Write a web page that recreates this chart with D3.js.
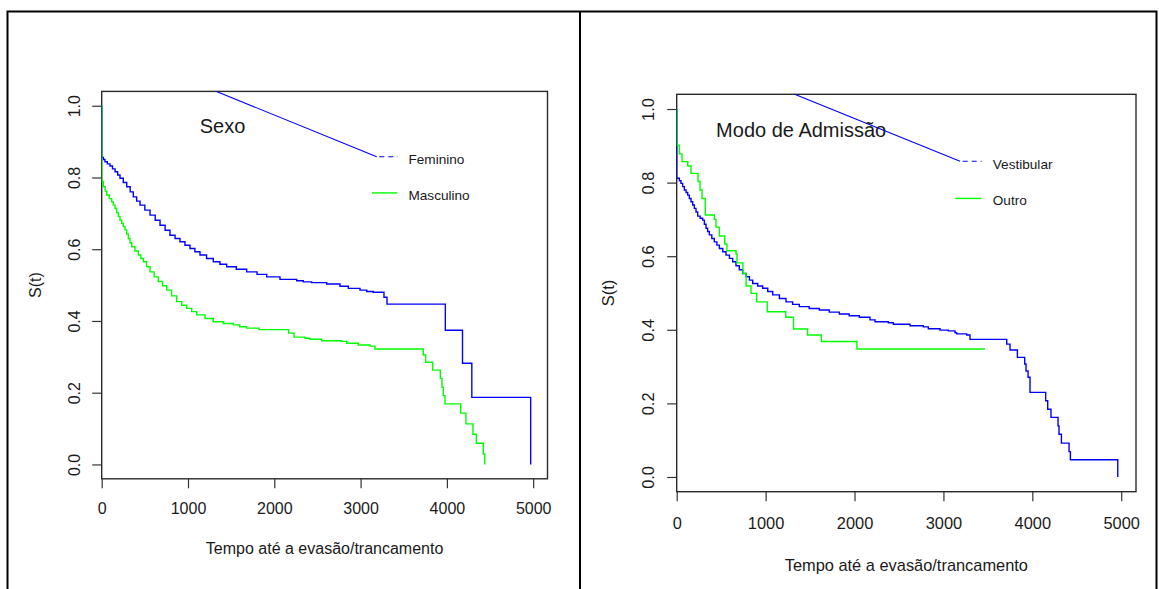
<!DOCTYPE html>
<html>
<head>
<meta charset="utf-8">
<script src="https://cdn.jsdelivr.net/npm/d3@7"></script>
<style>
  body { margin: 0; background: #fff; }
  svg text { font-family: "Liberation Sans", Arial, sans-serif; fill: #1a1a1a; }
</style>
</head>
<body>
<svg id="chart" width="1159" height="589"></svg>
<script>
// Kaplan-Meier estimates (time, S(t))
var femTime = [0, 0, 20, 38, 65, 96, 125, 155, 185, 212, 250, 290, 330, 366, 405, 444, 500, 560, 620, 676, 735, 791, 850, 907, 965, 1023, 1080, 1139, 1215, 1293, 1370, 1448, 1560, 1680, 1800, 1912, 2066, 2260, 2336, 2433, 2607, 2761, 2858, 2993, 3071, 3147, 3271, 3306, 3982, 4181, 4289, 4971];
var femSurv = [1, 0.856, 0.850, 0.844, 0.838, 0.832, 0.824, 0.816, 0.807, 0.798, 0.786, 0.774, 0.760, 0.746, 0.734, 0.723, 0.709, 0.695, 0.681, 0.667, 0.653, 0.639, 0.630, 0.621, 0.611, 0.602, 0.593, 0.584, 0.574, 0.565, 0.558, 0.551, 0.544, 0.537, 0.530, 0.523, 0.516, 0.512, 0.509, 0.507, 0.503, 0.497, 0.491, 0.486, 0.482, 0.480, 0.466, 0.447, 0.374, 0.282, 0.187, 0];

var mascTime = [0, 0, 19, 40, 58, 88, 116, 135, 154, 173, 193, 212, 232, 250, 270, 290, 309, 328, 348, 386, 425, 454, 483, 520, 560, 608, 656, 705, 753, 810, 869, 927, 985, 1043, 1101, 1197, 1293, 1410, 1525, 1600, 1680, 1823, 2166, 2229, 2356, 2414, 2549, 2781, 2839, 2973, 3109, 3167, 3727, 3754, 3835, 3924, 3943, 3958, 3978, 4160, 4221, 4302, 4341, 4422, 4438];
var mascSurv = [1, 0.789, 0.774, 0.762, 0.751, 0.741, 0.732, 0.723, 0.714, 0.702, 0.691, 0.681, 0.672, 0.663, 0.654, 0.642, 0.630, 0.618, 0.607, 0.595, 0.584, 0.574, 0.565, 0.551, 0.537, 0.523, 0.510, 0.498, 0.486, 0.470, 0.454, 0.444, 0.435, 0.426, 0.417, 0.407, 0.398, 0.393, 0.389, 0.384, 0.380, 0.376, 0.366, 0.355, 0.352, 0.349, 0.345, 0.343, 0.338, 0.333, 0.330, 0.322, 0.305, 0.285, 0.263, 0.240, 0.215, 0.192, 0.169, 0.143, 0.113, 0.084, 0.059, 0.029, 0];

var vestTime = [0, 0, 30, 48, 67, 86, 105, 124, 142, 161, 180, 198, 217, 236, 264, 292, 311, 330, 348, 367, 395, 423, 452, 480, 518, 555, 593, 630, 667, 704, 742, 780, 818, 855, 911, 967, 1024, 1080, 1155, 1229, 1304, 1379, 1490, 1604, 1716, 1829, 1940, 2054, 2174, 2231, 2380, 2437, 2624, 2774, 2830, 2962, 3055, 3131, 3149, 3262, 3299, 3712, 3749, 3832, 3914, 3929, 3952, 3974, 4150, 4173, 4210, 4289, 4300, 4327, 4413, 4428, 4961];
var vestSurv = [1, 0.812, 0.805, 0.798, 0.789, 0.780, 0.773, 0.766, 0.757, 0.748, 0.739, 0.730, 0.720, 0.709, 0.703, 0.698, 0.687, 0.676, 0.667, 0.658, 0.648, 0.639, 0.630, 0.621, 0.612, 0.603, 0.594, 0.585, 0.574, 0.563, 0.553, 0.544, 0.535, 0.526, 0.519, 0.513, 0.504, 0.495, 0.485, 0.476, 0.469, 0.463, 0.458, 0.454, 0.448, 0.443, 0.438, 0.434, 0.427, 0.422, 0.419, 0.415, 0.411, 0.408, 0.403, 0.399, 0.397, 0.392, 0.389, 0.386, 0.374, 0.361, 0.345, 0.325, 0.307, 0.288, 0.271, 0.230, 0.207, 0.184, 0.162, 0.139, 0.116, 0.092, 0.069, 0.047, 0];

var outroTime = [0, 0, 30, 60, 124, 161, 240, 262, 285, 321, 423, 442, 480, 540, 565, 668, 678, 745, 781, 836, 900, 1018, 1227, 1314, 1471, 1627, 2027, 3468];
var outroSurv = [1, 0.902, 0.878, 0.857, 0.845, 0.825, 0.803, 0.780, 0.757, 0.712, 0.700, 0.679, 0.655, 0.633, 0.615, 0.606, 0.582, 0.553, 0.519, 0.499, 0.476, 0.449, 0.434, 0.402, 0.386, 0.368, 0.348, 0.348];

var xTicks = [0, 1000, 2000, 3000, 4000, 5000];
var yTicks = [0, 0.2, 0.4, 0.6, 0.8, 1.0];
var panelTitles = ["Sexo", "Modo de Admissão"];
var legendLabels = [["Feminino", "Masculino"], ["Vestibular", "Outro"]];
var xTitle = "Tempo até a evasão/trancamento";
var yTitle = "S(t)";

var svg = d3.select("#chart");

// outer frame of the two pasted pictures
svg.append("rect")
    .attr("x", 7.5).attr("y", 11.5).attr("width", 1149).attr("height", 620)
    .attr("fill", "none").attr("stroke", "#000").attr("stroke-width", 2);
svg.append("line")
    .attr("x1", 580).attr("x2", 580).attr("y1", 11.5).attr("y2", 600)
    .attr("stroke", "#000").attr("stroke-width", 2);

var panels = [
    { box: { left: 101.7, top: 91.4, right: 547.5, bottom: 478.8 }, font: 16, labPad: 14.2, titleGap: 69.7, yLabOff: 27.7, yTitleX: 35.1,
      title: panelTitles[0], legend: legendLabels[0],
      curves: [[femTime, femSurv, "#0000ff"], [mascTime, mascSurv, "#00ff00"]] },
    { box: { left: 676.7, top: 94.3, right: 1136, bottom: 491.7 }, font: 16.4, labPad: 16.3, titleGap: 72.9, yLabOff: 28.4, yTitleX: 607.7,
      title: panelTitles[1], legend: legendLabels[1],
      curves: [[vestTime, vestSurv, "#0000ff"], [outroTime, outroSurv, "#00ff00"]] }
];

var drawPanel = function (p, i) {
    var b = p.box;
    var x = d3.scaleLinear().domain([0, 5166]).range([b.left, b.right]);
    var y = d3.scaleLinear().domain([-0.04, 1.04]).range([b.bottom, b.top]);
    var g = svg.append("g");

    g.append("clipPath").attr("id", "clip" + i)
      .append("rect")
        .attr("x", b.left).attr("y", b.top)
        .attr("width", b.right - b.left).attr("height", b.bottom - b.top);

    //// x axis
    var xAxis = g.append("g")
        .attr("transform", "translate(0," + b.bottom + ")")
        .call(d3.axisBottom(x).tickValues(xTicks).tickFormat(d3.format("d"))
            .tickSize(9.5).tickSizeOuter(0).tickPadding(p.labPad));
    xAxis.select(".domain").remove();
    xAxis.selectAll(".tick line").attr("stroke", "#333").attr("stroke-width", 1.2);
    xAxis.selectAll(".tick text").attr("font-size", p.font).attr("font-family", null);

    //// y axis, labels turned like R does
    var yAxis = g.append("g")
        .attr("transform", "translate(" + b.left + ",0)")
        .call(d3.axisLeft(y).tickValues(yTicks).tickSize(9.5).tickSizeOuter(0).tickFormat(d3.format(".1f")));
    yAxis.select(".domain").remove();
    yAxis.selectAll(".tick line").attr("stroke", "#333").attr("stroke-width", 1.2);
    yAxis.selectAll(".tick text")
        .attr("x", null).attr("dy", null)
        .attr("text-anchor", "middle")
        .attr("dominant-baseline", "central")
        .attr("font-size", p.font).attr("font-family", null)
        .attr("transform", "translate(" + (-p.yLabOff) + ",0) rotate(-90)");

    //// box
    g.append("rect")
        .attr("x", b.left).attr("y", b.top)
        .attr("width", b.right - b.left).attr("height", b.bottom - b.top)
        .attr("fill", "none").attr("stroke", "#2a2a2a").attr("stroke-width", 1.4);

    //// axis titles
    g.append("text")
        .attr("x", (b.left + b.right) / 2).attr("y", b.bottom + p.titleGap)
        .attr("text-anchor", "middle").attr("dominant-baseline", "central")
        .attr("font-size", p.font).text(xTitle);
    g.append("text")
        .attr("transform", "translate(" + p.yTitleX + "," + (b.top + b.bottom) / 2 + ") rotate(-90)")
        .attr("text-anchor", "middle").attr("dominant-baseline", "central")
        .attr("font-size", p.font).text(yTitle);

    //// survival curves
    var line = d3.line()
        .x(function (d) { return x(d[0]); })
        .y(function (d) { return y(d[1]); })
        .curve(d3.curveStepAfter);
    var plot = g.append("g").attr("clip-path", "url(#clip" + i + ")");
    p.curves.forEach(function (c) {
        plot.append("path")
            .datum(d3.zip(c[0], c[1]))
            .attr("d", line)
            .attr("fill", "none")
            .attr("stroke", c[2])
            .attr("stroke-width", 1.4);
    });

    //// stray leader line that R drew into the legend
    plot.append("path")
        .datum([[0, 1.17], [3187, 0.858]])
        .attr("d", d3.line().x(function (d) { return x(d[0]); }).y(function (d) { return y(d[1]); }))
        .attr("fill", "none").attr("stroke", "#0000ff").attr("stroke-width", 1.1);

    //// title inside the plot
    g.append("text")
        .attr("x", x(1400)).attr("y", y(0.943))
        .attr("text-anchor", "middle").attr("dominant-baseline", "central")
        .attr("font-size", 20).text(p.title);

    //// legend
    g.append("line")
        .attr("x1", x(3217)).attr("x2", x(3430))
        .attr("y1", y(0.858)).attr("y2", y(0.858))
        .attr("stroke", "#0000ff").attr("stroke-width", 1.1)
        .attr("stroke-dasharray", "5,4");
    g.append("line")
        .attr("x1", x(3133)).attr("x2", x(3427))
        .attr("y1", y(0.757)).attr("y2", y(0.757))
        .attr("stroke", "#00ff00").attr("stroke-width", 1.4);
    g.selectAll(".leg")
        .data(p.legend)
      .enter()
        .append("text")
        .attr("x", x(3555))
        .attr("y", function (d, k) { return y(k === 0 ? 0.850 : 0.751); })
        .attr("dominant-baseline", "central")
        .attr("font-size", 13.6)
        .text(function (d) { return d; });
};

panels.forEach(drawPanel);
</script>
</body>
</html>
